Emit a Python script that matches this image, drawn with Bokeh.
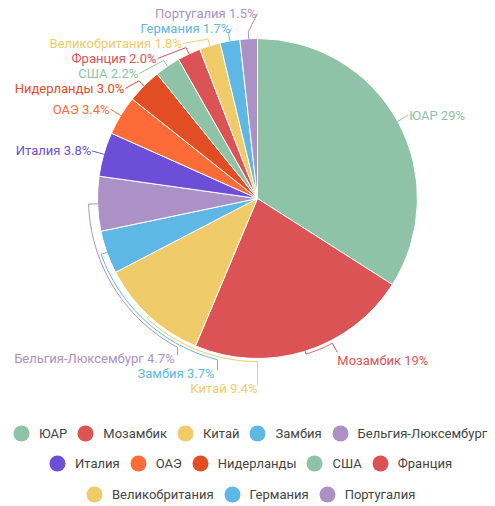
import math
from bokeh.plotting import figure
from bokeh.models import Range1d, Legend, LegendItem, ColumnDataSource
from bokeh.core.properties import value
from bokeh.embed import file_html
from bokeh.resources import INLINE

# ---------------- data ----------------
countries = ["ЮАР", "Мозамбик", "Китай", "Замбия", "Бельгия-Люксембург",
             "Италия", "ОАЭ", "Нидерланды", "США", "Франция",
             "Великобритания", "Германия", "Португалия"]
shares = [29, 19, 9.4, 3.7, 4.7, 3.8, 3.4, 3.0, 2.2, 2.0, 1.8, 1.7, 1.5]
legend_row_sizes = [5, 5, 3]

# ---------------- style ----------------
colors = ["#8ec3a7", "#dc5356", "#f0cb69", "#5fb7e5", "#ab91c5",
          "#6c4fd6", "#fd6b37", "#e34d24", "#8ec3a7", "#dc5356",
          "#f0cb69", "#5fb7e5", "#ab91c5"]
FONT = "Roboto"
W, H = 495, 506
cx, cy, r = 257.0, 198.0, 160.0   # pie centre / radius in page pixels (y down)


def fmt(v):
    return f"{v:.0f}%" if v >= 10 else f"{v:.1f}%"


def pt(alpha, rad):
    a = math.radians(alpha)
    return cx + rad * math.sin(a), cy - rad * math.cos(a)


def arc(a0, a1, rad, n=40):
    return [pt(a0 + (a1 - a0) * t / n, rad) for t in range(n + 1)]


total = sum(shares)
a_start, a_end, a_mid = [], [], []
acc = 0.0
for v in shares:
    a0 = acc / total * 360.0
    acc += v
    a1 = acc / total * 360.0
    a_start.append(a0)
    a_end.append(a1)
    a_mid.append((a0 + a1) / 2)

# ---------------- label layout ----------------
labels = {}   # i -> (text_x, text_y, align, line points)
R = r + 12
step = 15

# right side
for i in range(len(shares)):
    m = a_mid[i]
    if m < 120:
        ax, ay = pt(m, R)
        labels[i] = (ax + 1, ay, "left", [pt(m, r), (ax, ay - 1)])
    elif m < 180:
        p0 = pt(m, r)
        ra = r + 3
        pts = [p0, pt(m, ra)] + arc(m, m - 10, ra)
        ex, ey = pts[-1]
        end = (ex + 5, ey + 9)
        pts.append(end)
        labels[i] = (end[0], end[1] + 8, "left", pts)

# bottom-left group (stacked under the pie)
bottom = [i for i in range(len(shares)) if 180 <= a_mid[i] < 270]
bottom.sort(key=lambda i: -a_mid[i])
nb = len(bottom)
for k, i in enumerate(bottom):
    m = a_mid[i]
    base_y = cy + r + step * k
    lx = cx - 40 * (nb - 1 - k)
    ra = r + 3 + 3 * (nb - 1 - k)
    phi = 180 + math.degrees(math.asin((cx - lx) / ra))
    pts = [pt(m, r), pt(m, ra)] + arc(m, phi, ra)
    pts.append((lx, base_y - 3))
    labels[i] = (lx - 3 if k < nb - 1 else lx, base_y, "right", pts)

# top-left group (stacked, x on circle)
top = [i for i in range(len(shares)) if a_mid[i] >= 270]
top.sort(key=lambda i: a_mid[i])            # bottom first (Italy)
ys = [cy - R * math.cos(math.radians(a_mid[i])) for i in top]
for k in range(1, len(ys)):
    ys[k] = min(ys[k], ys[k - 1] - step)
top_bound = 13
ys[-1] = max(ys[-1], top_bound)
for k in range(len(ys) - 2, -1, -1):
    ys[k] = max(ys[k], ys[k + 1] + step)
for k, i in enumerate(top):
    y = ys[k]
    dy = cy - y
    x = cx - math.sqrt(max(0.0, R * R - dy * dy))
    m = a_mid[i]
    pts = [pt(m, r), pt(m, r + 7), (x, y)]
    labels[i] = (x - 1, y, "right", pts)

# ---------------- figure ----------------
p = figure(width=W, height=H, x_range=Range1d(0, W), y_range=Range1d(-H, 0),
           output_backend="svg", toolbar_location=None, min_border=0)
p.xaxis.visible = False
p.yaxis.visible = False
p.grid.visible = False
p.outline_line_color = None

wsrc = ColumnDataSource(dict(
    start=[math.radians(90 - a) for a in a_start],
    end=[math.radians(90 - a) for a in a_end],
    color=colors,
))
p.wedge(x=cx, y=-cy, radius=r, start_angle="start", end_angle="end", direction="clock",
        fill_color="color", line_color="white", line_width=1, source=wsrc)

xs, ysl, lc = [], [], []
for i, (_, _, _, pts) in labels.items():
    xs.append([q[0] for q in pts])
    ysl.append([-q[1] for q in pts])
    lc.append(colors[i])
p.multi_line(xs=xs, ys=ysl, line_color=lc, line_width=1)

for align in ("left", "right"):
    ids = [i for i in labels if labels[i][2] == align]
    src = ColumnDataSource(dict(
        x=[labels[i][0] for i in ids],
        y=[-labels[i][1] for i in ids],
        text=[f"{countries[i]} {fmt(shares[i])}" for i in ids],
        color=[colors[i] for i in ids],
    ))
    p.text(x="x", y="y", text="text", text_color="color", text_align=align,
           text_baseline="alphabetic", text_font=value(FONT), text_font_size="13px",
           source=src)

# ---------------- legend ----------------
dummies = []
for i, c in enumerate(colors):
    rr = p.ellipse(x=[-5000], y=[-5000], width=10, height=10, fill_color=c, line_color=None)
    dummies.append(rr)

row_locs = [(11, 63), (47, 33), (84, 2)]
idx = 0
for n, loc in zip(legend_row_sizes, row_locs):
    items = [LegendItem(label=countries[j], renderers=[dummies[j]]) for j in range(idx, idx + n)]
    idx += n
    lg = Legend(items=items, orientation="horizontal", location=loc,
                glyph_width=20, glyph_height=20, label_standoff=8, spacing=8,
                padding=0, margin=0, border_line_alpha=0, background_fill_alpha=0,
                label_text_font=FONT, label_text_font_size="13px",
                label_text_color="#444444", label_height=20)
    p.add_layout(lg)

open("out.html", "w").write(file_html(p, INLINE))
